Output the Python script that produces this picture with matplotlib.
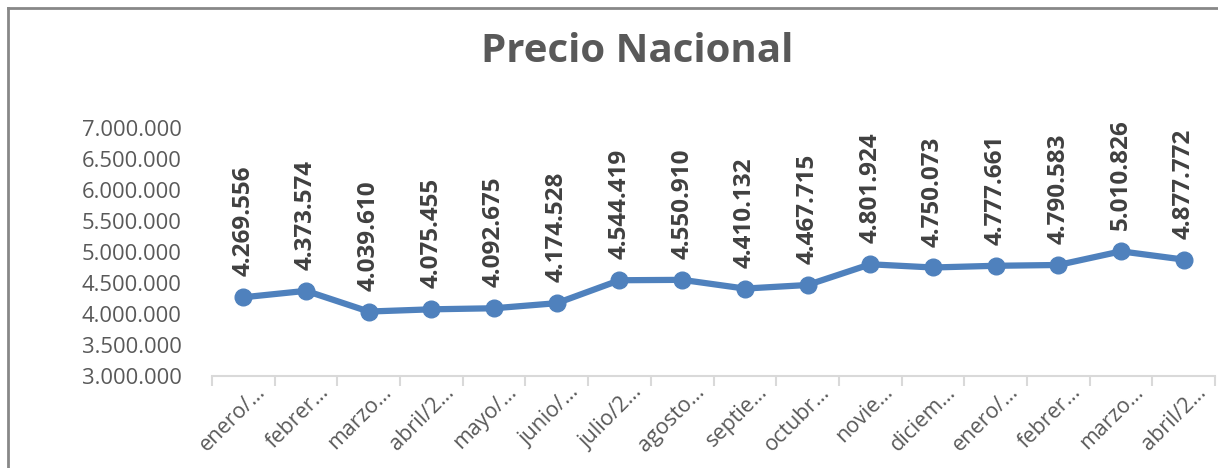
import matplotlib
matplotlib.use("Agg")
import matplotlib.pyplot as plt
import matplotlib.transforms as mtransforms
from matplotlib.lines import Line2D

# datos
meses = ["enero/…", "febrer…", "marzo…", "abril/2…", "mayo/…", "junio/…",
         "julio/2…", "agosto…", "septie…", "octubr…", "novie…", "diciem…",
         "enero/…", "febrer…", "marzo…", "abril/2…"]
precio = [4269556, 4373574, 4039610, 4075455, 4092675, 4174528,
          4544419, 4550910, 4410132, 4467715, 4801924, 4750073,
          4777661, 4790583, 5010826, 4877772]
y_ticks = [3000000, 3500000, 4000000, 4500000, 5000000, 5500000, 6000000, 6500000, 7000000]


def miles(v):
    return f"{v:,.0f}".replace(",", ".")


plt.rcParams['font.family'] = ['Open Sans', 'DejaVu Sans']
gris = "#595959"
azul = "#4f81bd"

fig = plt.figure(figsize=(12.18, 4.68), dpi=100)
ax = fig.add_axes([212/1218, 1-376/468, (1215-212)/1218, (376-128)/468])

x = list(range(len(precio)))
ax.plot(x, precio, color=azul, lw=4.5, marker='o', ms=12, zorder=3,
        solid_capstyle='round')

for xi, v in zip(x, precio):
    ax.annotate(miles(v), (xi, v), xytext=(0, 15), textcoords='offset points',
                rotation=90, ha='center', va='bottom', fontsize=17.5,
                fontweight='bold', color="#404040")

ax.set_xlim(-0.5, len(precio)-0.5)
ax.set_ylim(3000000, 7000000)
ax.set_yticks(y_ticks)
ax.set_yticklabels([miles(v) for v in y_ticks], fontsize=15.8, color=gris)
ax.tick_params(axis='y', length=0, pad=22)

ax.set_xticks(x)
ax.set_xticklabels(meses, rotation=45, ha='right', va='top',
                   rotation_mode='anchor', fontsize=15.5, color=gris)
ax.tick_params(axis='x', which='major', length=0, pad=4)
ax.set_xticks([i - 0.5 for i in range(len(precio)+1)], minor=True)
ax.tick_params(axis='x', which='minor', length=7, color="#d9d9d9", width=1.5)
desplaza = mtransforms.ScaledTranslation(12/100, 0, fig.dpi_scale_trans)
for lbl in ax.get_xticklabels():
    lbl.set_transform(lbl.get_transform() + desplaza)

for s in ['top', 'right', 'left']:
    ax.spines[s].set_visible(False)
ax.spines['bottom'].set_color("#d9d9d9")
ax.spines['bottom'].set_linewidth(1.5)

fig.text(637/1218, 1-52/468, "Precio Nacional", ha='center', va='center',
         fontsize=29, fontweight='bold', color=gris)

# marco del grafico
fig.add_artist(Line2D([7.5/1218, 7.5/1218], [0, 1-8/468], color="#888888", lw=2,
                      transform=fig.transFigure))
fig.add_artist(Line2D([7.5/1218, 1], [1-8/468, 1-8/468], color="#888888", lw=2,
                      transform=fig.transFigure))

fig.savefig("out.png", dpi=100)
